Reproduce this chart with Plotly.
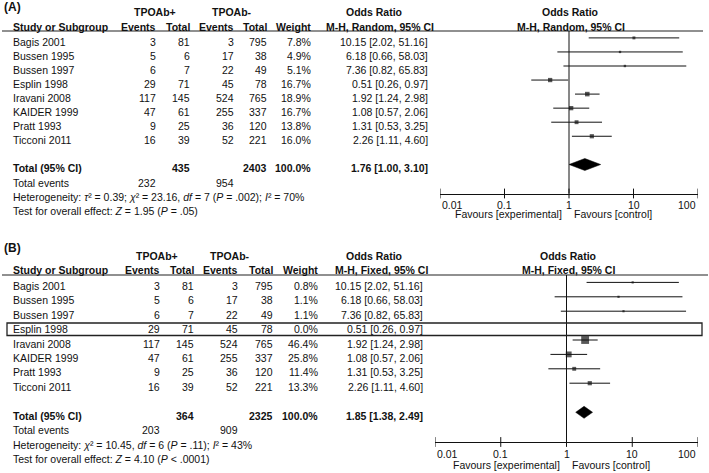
import plotly.graph_objects as go
import math

# ---------------- data ----------------
studies = ["Bagis 2001", "Bussen 1995", "Bussen 1997", "Esplin 1998",
           "Iravani 2008", "KAIDER 1999", "Pratt 1993", "Ticconi 2011"]
pos_events = [3, 5, 6, 29, 117, 47, 9, 16]
pos_total = [81, 6, 7, 71, 145, 61, 25, 39]
neg_events = [3, 17, 22, 45, 524, 255, 36, 52]
neg_total = [795, 38, 49, 78, 765, 337, 120, 221]
or_est = [10.15, 6.18, 7.36, 0.51, 1.92, 1.08, 1.31, 2.26]
or_lo = [2.02, 0.66, 0.82, 0.26, 1.24, 0.57, 0.53, 1.11]
or_hi = [51.16, 58.03, 65.83, 0.97, 2.98, 2.06, 3.25, 4.60]
weight_random = [7.8, 4.9, 5.1, 16.7, 18.9, 16.7, 13.8, 16.0]
weight_fixed = [0.8, 1.1, 1.1, 0.0, 46.4, 25.8, 11.4, 13.3]

total_random = {"pos_total": 435, "neg_total": 2403, "est": 1.76, "lo": 1.00, "hi": 3.10,
                "pos_events": 232, "neg_events": 954}
total_fixed = {"pos_total": 364, "neg_total": 2325, "est": 1.85, "lo": 1.38, "hi": 2.49,
               "pos_events": 203, "neg_events": 909}

het_random = "Heterogeneity: <i>τ</i>² = 0.39; <i>χ</i>² = 23.16, <i>df</i> = 7 (<i>P</i> = .002); <i>I</i>² = 70%"
het_fixed = "Heterogeneity: <i>χ</i>² = 10.45, <i>df</i> = 6 (<i>P</i> = .11); <i>I</i>² = 43%"
test_random = "Test for overall effect: <i>Z</i> = 1.95 (<i>P</i> = .05)"
test_fixed = "Test for overall effect: <i>Z</i> = 4.10 (<i>P</i> < .0001)"

tick_vals = [0.01, 0.1, 1, 10, 100]
tick_text = ["0.01", "0.1", "1", "10", "100"]

# ---------------- layout helpers ----------------
W, H = 709, 473
FONT = "Liberation Sans, Arial, sans-serif"
FS = 10.5
TXT = "#111111"

def X(px):
    return px / W

annotations = []
shapes = []
fig = go.Figure()

def text(s, x, y, anchor="left", bold=False, size=FS):
    if bold:
        s = "<b>" + s + "</b>"
    annotations.append(dict(text=s, x=X(x), xref="paper", y=y, yref="y",
                            xanchor=anchor, yanchor="middle", showarrow=False,
                            font=dict(family=FONT, size=size, color=TXT)))

panels = [
    dict(label="(A)", method="Random", weights=weight_random, total=total_random,
         het=het_random, test=test_random, xaxis="x", label_y=6.5, hdr1_y=12, hdr2_y=26.5,
         rule_y=31, rule_x=(2, 703), row_y0=41.7, row_dy=14.05, total_y=168, events_y=183,
         het_y=197, test_y=211, cols=(158, 192, 236, 269, 313, 430), tpo_c=(155, 232),
         or_hdr_c=(374.5, 380), dom=(440, 698), axis_y=193.5, ticklab_y=204.5, fav_y=213.5,
         mk_off=-3.8, dia_y=164.5, exclude_zero=False, k=1.05, box=None),
    dict(label="(B)", method="Fixed", weights=weight_fixed, total=total_fixed,
         het=het_fixed, test=test_fixed, xaxis="x2", label_y=247.5, hdr1_y=256, hdr2_y=270,
         rule_y=275, rule_x=(2, 708), row_y0=286, row_dy=14.4, total_y=416, events_y=430,
         het_y=445, test_y=459, cols=(162, 196, 240, 275, 320, 425), tpo_c=(157, 230),
         or_hdr_c=(374, 381), dom=(435, 698), axis_y=442, ticklab_y=453.5, fav_y=465,
         mk_off=-3.6, dia_y=412.3, exclude_zero=True, k=1.15, box=(7, 702, 323, 335.5)),
]

for i, p in enumerate(panels):
    c_ev1, c_t1, c_ev2, c_t2, c_w, c_or = p["cols"]
    # headers
    text(p["label"], 2, p["label_y"], bold=True, size=12)
    text("TPOAb+", p["tpo_c"][0], p["hdr1_y"], anchor="center", bold=True)
    text("TPOAb-", p["tpo_c"][1], p["hdr1_y"], anchor="center", bold=True)
    text("Odds Ratio", p["or_hdr_c"][0], p["hdr1_y"], anchor="center", bold=True)
    one_px = p["dom"][0] + (p["dom"][1] - p["dom"][0]) / 2
    text("Odds Ratio", one_px + 1, p["hdr1_y"], anchor="center", bold=True)
    text("Study or Subgroup", 11, p["hdr2_y"], bold=True)
    text("Events", c_ev1, p["hdr2_y"], anchor="right", bold=True)
    text("Total", c_t1, p["hdr2_y"], anchor="right", bold=True)
    text("Events", c_ev2, p["hdr2_y"], anchor="right", bold=True)
    text("Total", c_t2, p["hdr2_y"], anchor="right", bold=True)
    text("Weight", c_w, p["hdr2_y"], anchor="right", bold=True)
    text("M-H, %s, 95%% CI" % p["method"], p["or_hdr_c"][1], p["hdr2_y"], anchor="center", bold=True)
    text("M-H, %s, 95%% CI" % p["method"], one_px + 2, p["hdr2_y"], anchor="center", bold=True)
    shapes.append(dict(type="line", xref="paper", yref="y", x0=X(p["rule_x"][0]), x1=X(p["rule_x"][1]),
                       y0=p["rule_y"], y1=p["rule_y"], line=dict(color="#222", width=1.2)))

    # study rows
    ci_x, ci_y, mk_x, mk_y, mk_s = [], [], [], [], []
    for j, s in enumerate(studies):
        y = p["row_y0"] + j * p["row_dy"]
        text(s, 11, y)
        text(str(pos_events[j]), c_ev1, y, anchor="right")
        text(str(pos_total[j]), c_t1, y, anchor="right")
        text(str(neg_events[j]), c_ev2, y, anchor="right")
        text(str(neg_total[j]), c_t2, y, anchor="right")
        w = p["weights"][j]
        text("%.1f%%" % w, c_w, y, anchor="right")
        text("%.2f [%.2f, %.2f]" % (or_est[j], or_lo[j], or_hi[j]), c_or, y, anchor="right")
        if p["exclude_zero"] and w == 0:
            continue
        ym = y + p["mk_off"]
        ci_x += [or_lo[j], or_hi[j], None]
        ci_y += [ym, ym, None]
        mk_x.append(or_est[j])
        mk_y.append(ym)
        mk_s.append(max(2.2, p["k"] * math.sqrt(w)))

    fig.add_trace(go.Scatter(x=ci_x, y=ci_y, mode="lines", xaxis=p["xaxis"], yaxis="y",
                             line=dict(color="#111", width=1), hoverinfo="skip", showlegend=False))
    fig.add_trace(go.Scatter(x=mk_x, y=mk_y, mode="markers", xaxis=p["xaxis"], yaxis="y",
                             marker=dict(symbol="square", size=mk_s, color="#111", line=dict(width=0)),
                             hoverinfo="skip", showlegend=False))

    # totals
    t = p["total"]
    text("Total (95% CI)", 11, p["total_y"], bold=True)
    text(str(t["pos_total"]), c_t1, p["total_y"], anchor="right", bold=True)
    text(str(t["neg_total"]), c_t2, p["total_y"], anchor="right", bold=True)
    text("100.0%", c_w, p["total_y"], anchor="right", bold=True)
    text("%.2f [%.2f, %.2f]" % (t["est"], t["lo"], t["hi"]), c_or, p["total_y"], anchor="right", bold=True)
    text("Total events", 11, p["events_y"])
    text(str(t["pos_events"]), c_ev1, p["events_y"], anchor="right")
    text(str(t["neg_events"]), c_ev2, p["events_y"], anchor="right")
    text(p["het"], 11, p["het_y"])
    text(p["test"], 11, p["test_y"])

    dy = p["dia_y"]
    fig.add_trace(go.Scatter(x=[t["lo"], t["est"], t["hi"], t["est"], t["lo"]],
                             y=[dy, dy - 6, dy, dy + 6, dy], mode="lines", fill="toself",
                             fillcolor="#000", line=dict(color="#000", width=0.5),
                             xaxis=p["xaxis"], yaxis="y", hoverinfo="skip", showlegend=False))

    # null line
    shapes.append(dict(type="line", xref=p["xaxis"], yref="y", x0=1, x1=1,
                       y0=p["rule_y"], y1=p["axis_y"], line=dict(color="#111", width=1)))
    # axis tick marks (crossing the axis line)
    fig.add_trace(go.Scatter(x=tick_vals, y=[p["axis_y"]] * len(tick_vals), mode="markers",
                             xaxis=p["xaxis"], yaxis="y",
                             marker=dict(symbol="line-ns-open", size=7, color="#111",
                                         line=dict(width=1, color="#111")),
                             hoverinfo="skip", showlegend=False))
    ax = dict(type="log", range=[-2, 2], domain=[X(p["dom"][0]), X(p["dom"][1])],
              anchor="free", position=1 - p["axis_y"] / H, showline=True, linecolor="#111",
              linewidth=1, ticks="", showticklabels=False, showgrid=False, zeroline=False,
              fixedrange=True)
    if p["xaxis"] == "x":
        fig.update_layout(xaxis=ax)
    else:
        fig.update_layout(xaxis2=ax)
    n = len(tick_vals)
    for k, (v, lab) in enumerate(zip(tick_vals, tick_text)):
        anc = "left" if k == 0 else ("right" if k == n - 1 else "center")
        annotations.append(dict(text=lab, x=math.log10(v), xref=p["xaxis"], y=p["ticklab_y"], yref="y",
                                xanchor=anc, yanchor="middle", showarrow=False,
                                font=dict(family=FONT, size=FS, color=TXT)))
    annotations.append(dict(text="Favours [experimental]", x=math.log10(1), xref=p["xaxis"],
                            xshift=-5, y=p["fav_y"], yref="y", xanchor="right", yanchor="middle",
                            showarrow=False, font=dict(family=FONT, size=FS, color=TXT)))
    annotations.append(dict(text="Favours [control]", x=math.log10(1), xref=p["xaxis"],
                            xshift=3, y=p["fav_y"], yref="y", xanchor="left", yanchor="middle",
                            showarrow=False, font=dict(family=FONT, size=FS, color=TXT)))
    if p["box"]:
        bx0, bx1, by0, by1 = p["box"]
        shapes.append(dict(type="rect", xref="paper", yref="y", x0=X(bx0), x1=X(bx1),
                           y0=by0, y1=by1, line=dict(color="#222", width=1.3)))

fig.update_layout(
    width=W, height=H, margin=dict(l=0, r=0, t=0, b=0),
    paper_bgcolor="white", plot_bgcolor="rgba(0,0,0,0)",
    yaxis=dict(range=[H, 0], domain=[0, 1], visible=False, fixedrange=True),
    annotations=annotations, shapes=shapes, showlegend=False,
)
fig.write_html("out.html", config={"displayModeBar": False},
               post_script="document.body.style.margin='0px';document.body.style.overflow='hidden';")
